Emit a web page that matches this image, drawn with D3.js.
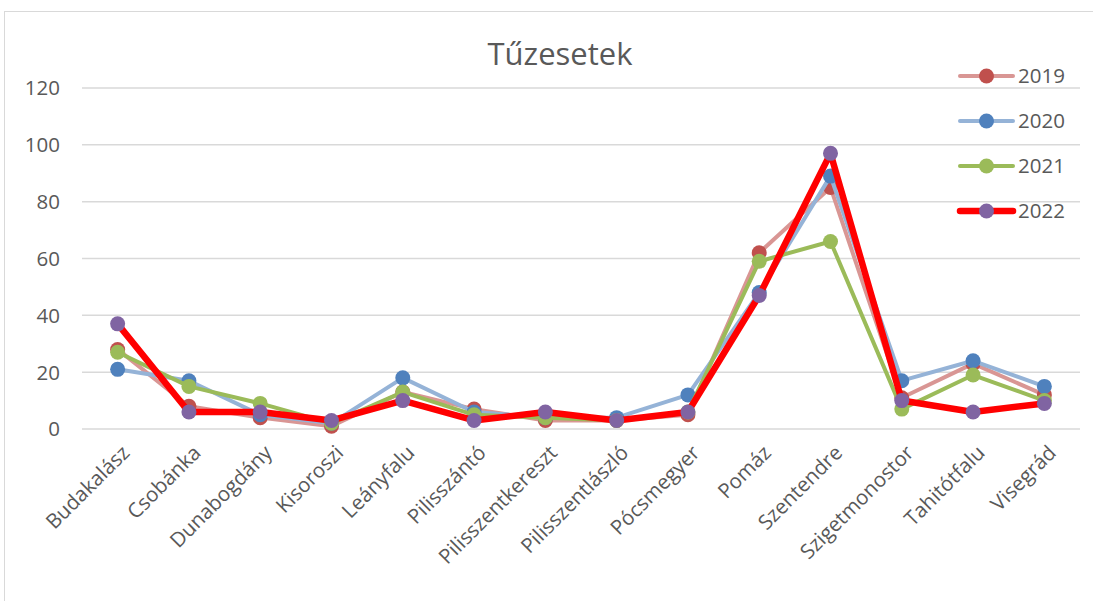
<!DOCTYPE html>
<html>
<head>
<meta charset="utf-8">
<script src="https://cdn.jsdelivr.net/npm/d3@7"></script>
<style>
  body { margin: 0; background: #fff; }
  text { font-family: "Open Sans", sans-serif; fill: #595959; }
</style>
</head>
<body>
<div id="chart"></div>
<script>
var towns = ["Budakalász", "Csobánka", "Dunabogdány", "Kisoroszi", "Leányfalu", "Pilisszántó",
    "Pilisszentkereszt", "Pilisszentlászló", "Pócsmegyer", "Pomáz", "Szentendre",
    "Szigetmonostor", "Tahitótfalu", "Visegrád"];
var years = ["2019", "2020", "2021", "2022"];
var v2019 = [28, 8, 4, 1, 13, 7, 3, 3, 5, 62, 85, 11, 23, 12];
var v2020 = [21, 17, 5, 2, 18, 6, 4, 4, 12, 48, 89, 17, 24, 15];
var v2021 = [27, 15, 9, 2, 13, 5, 4, 3, 6, 59, 66, 7, 19, 10];
var v2022 = [37, 6, 6, 3, 10, 3, 6, 3, 6, 47, 97, 10, 6, 9];
var yTicks = [0, 20, 40, 60, 80, 100, 120];

var seriesValues = [v2019, v2020, v2021, v2022];
var lineColors = ["#D99694", "#95B3D7", "#9BBB59", "#FF0000"];
var dotColors = ["#C0504D", "#4F81BD", "#9BBB59", "#8064A2"];
var lineWidths = [4, 4, 4, 6.5];

var width = 1093, height = 601;
var svg = d3.select("#chart").append("svg")
    .attr("width", width)
    .attr("height", height);

// chart frame
svg.append("rect")
    .attr("x", 4.5).attr("y", 11.5)
    .attr("width", 1200).attr("height", 800)
    .attr("fill", "none")
    .attr("stroke", "#D9D9D9");

var x = d3.scaleBand().domain(towns).range([82, 1080]);
var y = d3.scaleLinear().domain([0, 120]).range([429, 88]);

// gridlines
svg.append("g").selectAll("line")
    .data(yTicks)
    .enter().append("line")
    .attr("x1", 82).attr("x2", 1080)
    .attr("y1", function (d) { return y(d); })
    .attr("y2", function (d) { return y(d); })
    .attr("stroke", "#D9D9D9")
    .attr("stroke-width", 1.5);

// y labels
svg.append("g").selectAll("text")
    .data(yTicks)
    .enter().append("text")
    .attr("x", 60)
    .attr("y", function (d) { return y(d); })
    .attr("dy", "0.36em")
    .attr("text-anchor", "end")
    .attr("font-size", 20.5)
    .text(function (d) { return d; });

// x labels
svg.append("g").selectAll("text")
    .data(towns)
    .enter().append("text")
    .attr("transform", function (d) {
        return "translate(" + (x(d) + x.bandwidth() / 2 + 8) + ",449) rotate(-45)";
    })
    .attr("text-anchor", "end")
    .attr("dy", "0.35em")
    .attr("font-size", 20.5)
    .text(function (d) { return d; });

// title
svg.append("text")
    .attr("x", 560).attr("y", 65)
    .attr("text-anchor", "middle")
    .attr("font-size", 31)
    .text("Tűzesetek");

var line = d3.line()
    .x(function (d, i) { return x(towns[i]) + x.bandwidth() / 2; })
    .y(function (d) { return y(d); });

// series
seriesValues.forEach(function (vals, s) {
    var g = svg.append("g");
    g.append("path")
        .datum(vals)
        .attr("d", line)
        .attr("fill", "none")
        .attr("stroke", lineColors[s])
        .attr("stroke-width", lineWidths[s])
        .attr("stroke-linejoin", "round");
    g.selectAll("circle")
        .data(vals)
        .enter().append("circle")
        .attr("cx", function (d, i) { return x(towns[i]) + x.bandwidth() / 2; })
        .attr("cy", function (d) { return y(d); })
        .attr("r", 7.5)
        .attr("fill", dotColors[s]);
});

// legend
var legend = svg.append("g").selectAll("g")
    .data(years)
    .enter().append("g")
    .attr("transform", function (d, i) { return "translate(960," + (76 + i * 45) + ")"; });
legend.append("line")
    .attr("x1", 0).attr("x2", 53)
    .attr("stroke", function (d, i) { return lineColors[i]; })
    .attr("stroke-width", function (d, i) { return lineWidths[i]; })
    .attr("stroke-linecap", "round");
legend.append("circle")
    .attr("cx", 26.5).attr("r", 7.5)
    .attr("fill", function (d, i) { return dotColors[i]; });
legend.append("text")
    .attr("x", 58)
    .attr("dy", "0.36em")
    .attr("font-size", 20.5)
    .text(function (d) { return d; });
</script>
</body>
</html>
